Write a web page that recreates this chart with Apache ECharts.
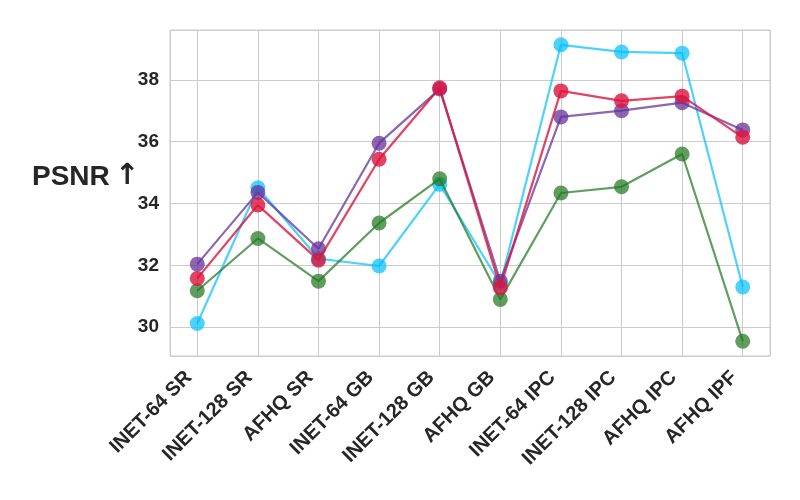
<!DOCTYPE html>
<html>
<head>
<meta charset="utf-8">
<script src="https://cdn.jsdelivr.net/npm/echarts@6/dist/echarts.min.js"></script>
<style>html,body{margin:0;padding:0;background:#fff;}#c{width:800px;height:500px;}</style>
</head>
<body>
<div id="c"></div>
<script>
const categories = ['INET-64 SR','INET-128 SR','AFHQ SR','INET-64 GB','INET-128 GB','AFHQ GB','INET-64 IPC','INET-128 IPC','AFHQ IPC','AFHQ IPF'];
const cyanVals   = [30.12, 34.51, 32.22, 31.98, 34.62, 31.40, 39.13, 38.90, 38.86, 31.30];
const greenVals  = [31.18, 32.87, 31.49, 33.37, 34.80, 30.90, 34.34, 34.54, 35.60, 29.55];
const purpleVals = [32.04, 34.36, 32.54, 35.95, 37.70, 31.49, 36.80, 37.00, 37.26, 36.38];
const redVals    = [31.58, 33.95, 32.17, 35.43, 37.74, 31.28, 37.64, 37.32, 37.47, 36.14];
const yTicks = [30, 32, 34, 36, 38];

const font = 'Liberation Sans, Arial, sans-serif';
const seriesDefs = [
  {name:'cyan', vals: cyanVals, color:'rgba(0,191,255,0.7)'},
  {name:'green', vals: greenVals, color:'rgba(34,120,34,0.72)'},
  {name:'purple', vals: purpleVals, color:'rgba(102,51,153,0.75)'},
  {name:'red', vals: redVals, color:'rgba(220,20,60,0.8)'}
];
const allVals = [].concat(cyanVals, greenVals, purpleVals, redVals);
const dmin = Math.min(...allVals), dmax = Math.max(...allVals);
const pad = (dmax - dmin) * 0.05;
const n = categories.length;

const chart = echarts.init(document.getElementById('c'), null, {renderer:'canvas'});
chart.setOption({
  backgroundColor:'#fff',
  animation:false,
  grid:{left:170, right:30, top:30, bottom:144, show:true, borderColor:'#cccccc', borderWidth:1},
  graphic:[
    {type:'text', style:{x:32, y:177, text:'PSNR', font:'bold 28px ' + font, fill:'#262626', verticalAlign:'middle'}},
    {type:'text', style:{x:115, y:176, text:'\u2191', font:"bold 29px 'DejaVu Sans'", fill:'#262626', verticalAlign:'middle'}}
  ],
  xAxis:{
    type:'value', min:-(n-1)*0.05, max:(n-1)*1.05, minInterval:1, maxInterval:1,
    axisLine:{show:false}, axisTick:{show:false},
    splitLine:{show:true, lineStyle:{color:'#cccccc', width:1}},
    axisLabel:{rotate:45, margin:10, padding:[0,12,0,0], fontSize:20, fontWeight:'bold', fontFamily:font, color:'#262626',
      showMinLabel:true, showMaxLabel:true,
      formatter:function(v){ return (Math.abs(v - Math.round(v)) < 1e-6 && categories[Math.round(v)]) ? categories[Math.round(v)] : ''; }}
  },
  yAxis:{
    type:'value', min:dmin - pad, max:dmax + pad, minInterval:2, maxInterval:2,
    axisLine:{show:false}, axisTick:{show:false},
    splitLine:{show:true, lineStyle:{color:'#cccccc', width:1}},
    axisLabel:{margin:11, fontSize:19, fontWeight:'bold', fontFamily:font, color:'#262626',
      formatter:function(v){ const r = Math.round(v); return (Math.abs(v - r) < 1e-6 && yTicks.indexOf(r) >= 0) ? String(r) : ''; }}
  },
  series: seriesDefs.map((s, k) => ({
    type:'line', name:s.name, z:2 + k,
    data: s.vals.map((v, i) => [i, v]),
    symbol:'circle', symbolSize:15, showSymbol:true,
    lineStyle:{color:s.color, width:2.2},
    itemStyle:{color:s.color, borderWidth:0}
  }))
});
</script>
</body>
</html>
